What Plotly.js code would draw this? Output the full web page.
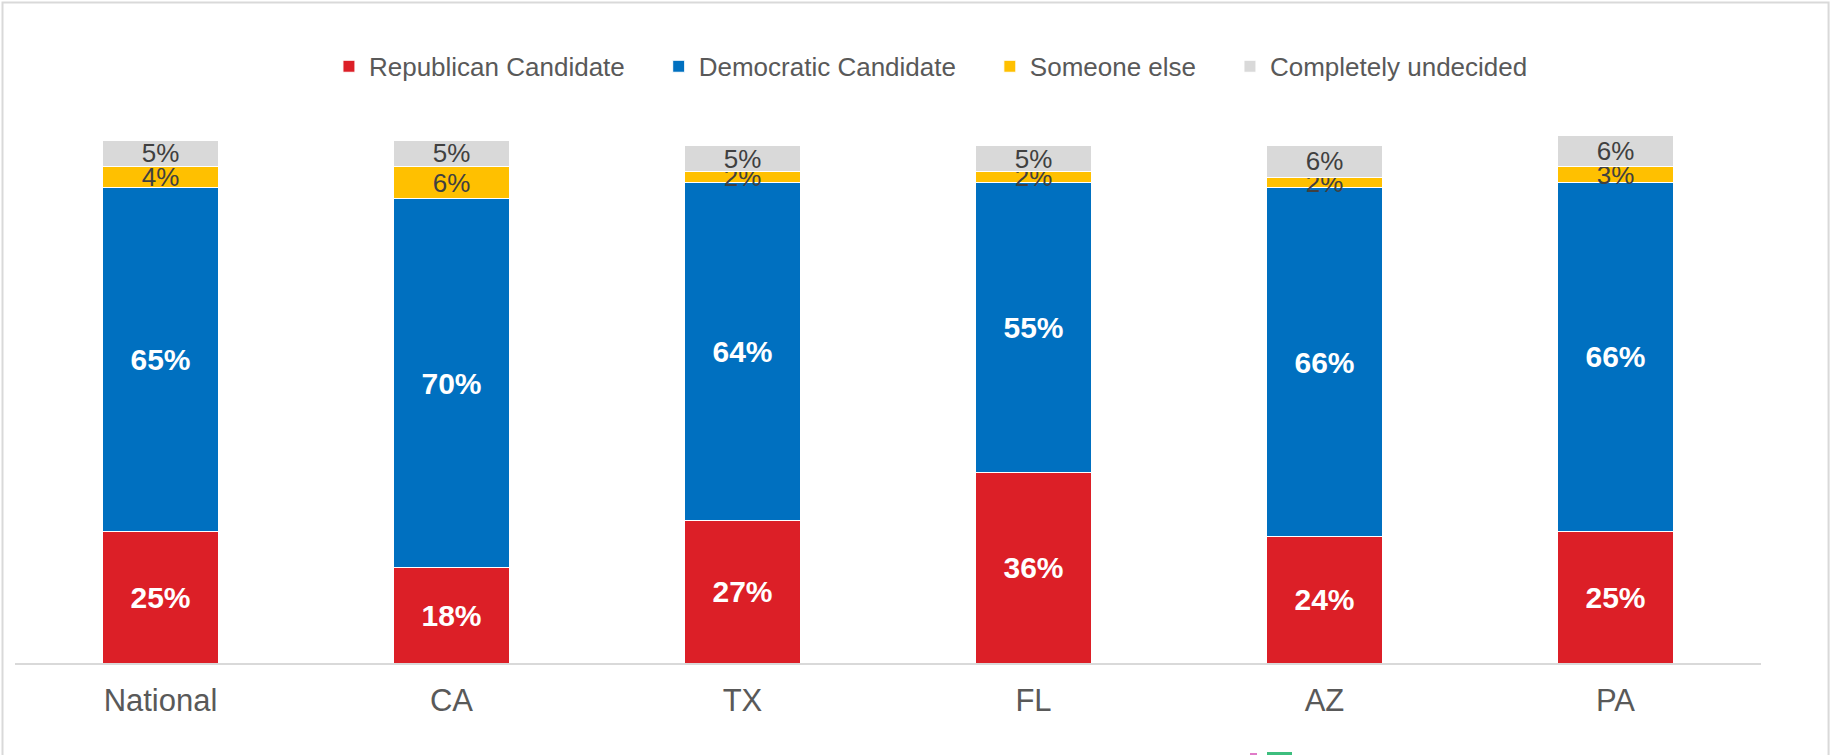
<!DOCTYPE html>
<html>
<head>
<meta charset="utf-8">
<script src="https://cdn.plot.ly/plotly-3.0.1.min.js"></script>
<style>
  html, body { margin: 0; padding: 0; background: #ffffff; }
  #chart { width: 1831px; height: 755px; }
</style>
</head>
<body>
<div id="chart"></div>
<script>
// ---- Data ----
const categories = ["National", "CA", "TX", "FL", "AZ", "PA"];
const republican = [25, 18, 27, 36, 24, 25];
const democratic = [65, 70, 64, 55, 66, 66];
const someoneElse = [4, 6, 2, 2, 2, 3];
const undecided = [5, 5, 5, 5, 6, 6];
const seriesNames = ["Republican Candidate", "Democratic Candidate", "Someone else", "Completely undecided"];
const seriesColors = ["#DC1F27", "#0070C0", "#FFC000", "#D9D9D9"];

const FONT = "Liberation Sans, Arial, sans-serif";
const PAD = "\u00A0\u00A0\u00A0\u00A0"; // legend spacing between entries

function makeTrace(name, values, color, big, padded) {
  return {
    type: "bar",
    name: padded ? name + PAD : name,
    x: categories,
    y: values,
    marker: { color: color, line: { color: "#ffffff", width: 1 } },
    texttemplate: "%{y}%",
    textposition: "inside",
    insidetextanchor: "middle",
    constraintext: "none",
    textangle: 0,
    textfont: big
      ? { family: FONT, size: 30, color: "#ffffff", weight: "bold" }
      : { family: FONT, size: 26, color: "#404040" },
    hoverinfo: "x+y"
  };
}

const data = [
  makeTrace(seriesNames[0], republican, seriesColors[0], true, true),
  makeTrace(seriesNames[1], democratic, seriesColors[1], true, true),
  makeTrace(seriesNames[2], someoneElse, seriesColors[2], false, true),
  makeTrace(seriesNames[3], undecided, seriesColors[3], false, false)
];

const layout = {
  width: 1831,
  height: 755,
  margin: { l: 15, r: 70, t: 135, b: 92, pad: 0 },
  paper_bgcolor: "#ffffff",
  plot_bgcolor: "#ffffff",
  barmode: "stack",
  bargap: 0.6,
  font: { family: FONT, color: "#595959" },
  showlegend: true,
  legend: {
    orientation: "h",
    traceorder: "normal",
    x: 0.5246,
    xanchor: "center",
    y: 1.13,
    yanchor: "middle",
    font: { family: FONT, size: 26, color: "#595959" },
    bgcolor: "rgba(0,0,0,0)"
  },
  xaxis: {
    type: "category",
    showline: true,
    linecolor: "#D9D9D9",
    linewidth: 2,
    ticks: "",
    showgrid: false,
    zeroline: false,
    tickfont: { family: FONT, size: 31, color: "#595959" },
    ticklabelstandoff: 9,
    fixedrange: true
  },
  yaxis: {
    visible: false,
    range: [0, 100],
    showgrid: false,
    zeroline: false,
    fixedrange: true
  },
  shapes: [
    {
      type: "rect", xref: "paper", yref: "paper",
      x0: -0.00716, x1: 1.0387, y0: -0.19, y1: 1.2509,
      line: { color: "#D9D9D9", width: 2 }, fillcolor: "rgba(0,0,0,0)", layer: "below"
    },
    {
      type: "line", xref: "paper", yref: "paper",
      x0: (1250 - 15) / 1746, x1: (1257 - 15) / 1746,
      y0: (663 - 754) / 528, y1: (663 - 754) / 528,
      line: { color: "#E07BC8", width: 2 }
    },
    {
      type: "line", xref: "paper", yref: "paper",
      x0: (1267 - 15) / 1746, x1: (1292 - 15) / 1746,
      y0: (663 - 753.5) / 528, y1: (663 - 753.5) / 528,
      line: { color: "#3DBE7E", width: 3 }
    }
  ]
};

Plotly.newPlot("chart", data, layout, { displayModeBar: false, staticPlot: true });
</script>
</body>
</html>
